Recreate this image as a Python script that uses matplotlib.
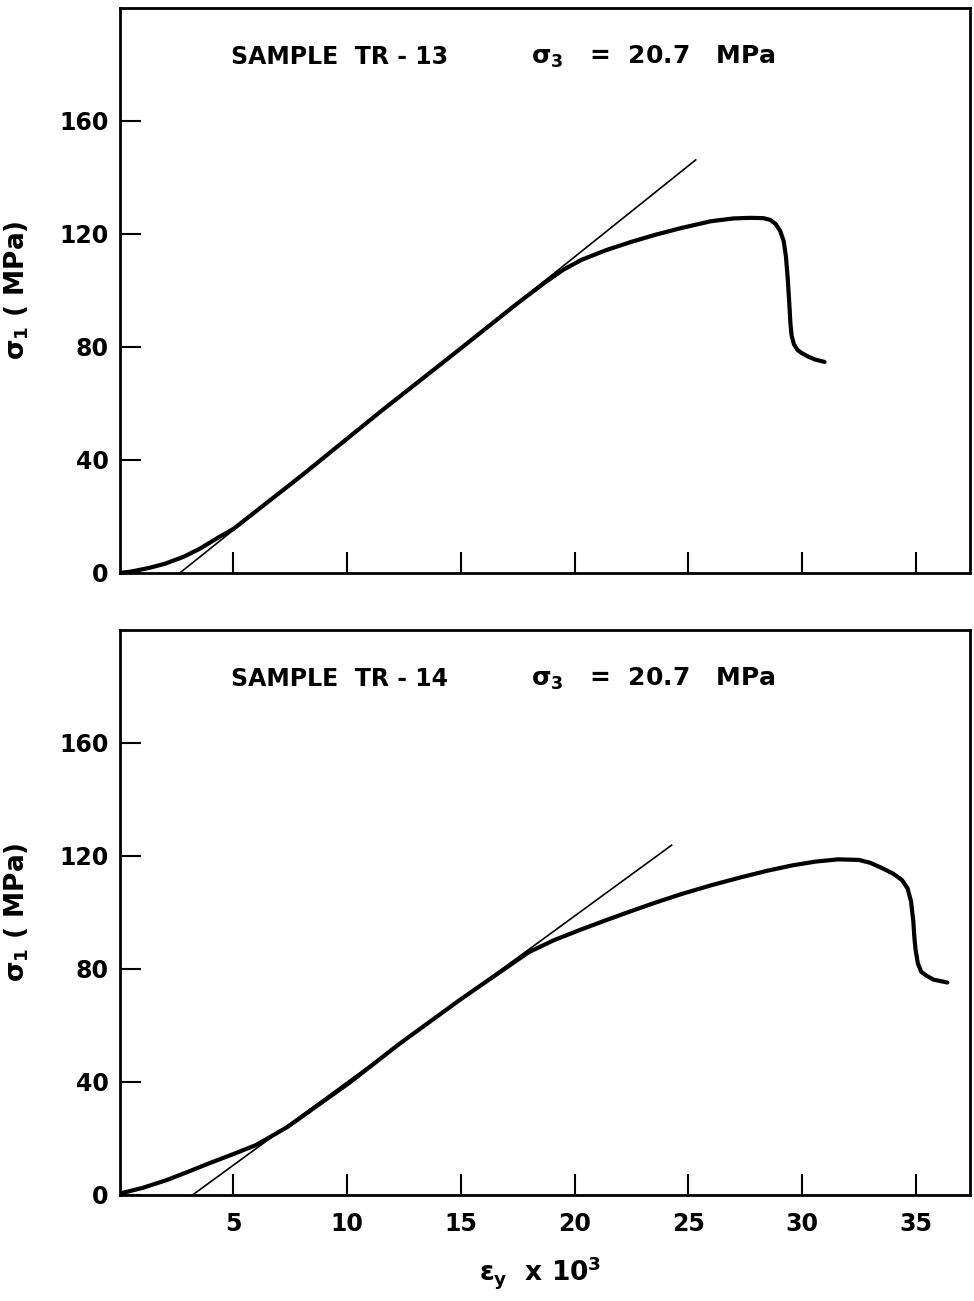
import numpy as np
import matplotlib.pyplot as plt

plt.rcParams['font.family'] = 'DejaVu Sans'
plt.rcParams['font.weight'] = 'bold'
plt.rcParams['mathtext.fontset'] = 'custom'
plt.rcParams['mathtext.rm'] = 'DejaVu Sans:bold'
plt.rcParams['mathtext.it'] = 'DejaVu Sans:bold'

# Sample TR-13: measured curve (strain x 10^3, sigma_1 in MPa)
tr13_strain = [0, 0.5, 1.3, 2.0, 2.8, 3.5, 4.3, 5.0, 8.0, 11.45, 15.0, 17.5, 18.7,
               19.5, 20.3, 21.4, 22.5, 23.6, 24.7, 26.0, 27.0, 27.75, 28.3, 28.6,
               28.85, 29.05, 29.2, 29.3, 29.38, 29.45, 29.5, 29.55, 29.65, 29.8,
               30.0, 30.3, 30.6, 31.0]
tr13_stress = [0, 0.5, 1.8, 3.3, 5.7, 8.5, 12.4, 15.6, 34.5, 57.0, 79.5, 95.5, 102.8,
               107.3, 110.8, 114.3, 117.2, 119.8, 122.1, 124.5, 125.5, 125.7, 125.6, 125.0,
               123.5, 121.0, 117.5, 112.0, 104.0, 95.0, 88.0, 84.0, 81.0, 79.0,
               77.8, 76.5, 75.5, 74.7]
# TR-13 tangent (elastic) line end points
tr13_tan_strain = [2.64, 25.33]
tr13_tan_stress = [0, 146.2]

# Sample TR-14
tr14_strain = [0, 1.0, 2.07, 3.0, 3.96, 5.0, 6.0, 7.36, 10.1, 12.3, 15.0, 18.0,
               19.1, 20.3, 21.4, 22.5, 23.6, 24.7, 26.0, 27.3, 28.5, 29.6, 30.6,
               31.6, 32.5, 33.0, 33.5, 34.0, 34.4, 34.65, 34.8, 34.9, 34.95, 35.0,
               35.1, 35.25, 35.5, 35.8, 36.4]
tr14_stress = [0.5, 2.5, 5.3, 8.2, 11.3, 14.5, 17.7, 24.0, 39.7, 53.5, 69.3, 86.0,
               90.2, 94.0, 97.3, 100.5, 103.6, 106.5, 109.6, 112.4, 114.8, 116.7, 118.0,
               118.8, 118.6, 117.6, 115.8, 113.8, 111.5, 108.5, 104.0, 97.0, 91.0, 86.9,
               82.0, 79.0, 77.5, 76.2, 75.2]
tr14_tan_strain = [3.2, 24.27]
tr14_tan_stress = [0, 123.8]

x_ticks = [5, 10, 15, 20, 25, 30, 35]
y_ticks = [0, 40, 80, 120, 160]

fig = plt.figure(figsize=(9.74, 13.01), dpi=100)
ax1 = fig.add_axes([0.123, 0.5596, 0.873, 0.4343])
ax2 = fig.add_axes([0.123, 0.0815, 0.873, 0.4343])

panels = [
    (ax1, tr13_strain, tr13_stress, tr13_tan_strain, tr13_tan_stress, 'SAMPLE  TR - 13'),
    (ax2, tr14_strain, tr14_stress, tr14_tan_strain, tr14_tan_stress, 'SAMPLE  TR - 14'),
]

for ax, xs, ys, txs, tys, name in panels:
    ax.plot(xs, ys, color='black', lw=3.0, solid_capstyle='round', solid_joinstyle='round')
    ax.plot(txs, tys, color='black', lw=1.2)
    ax.set_xlim(0, 37.4)
    ax.set_ylim(0, 200)
    ax.set_xticks(x_ticks)
    ax.set_yticks(y_ticks)
    ax.tick_params(direction='in', length=15, width=1.5, labelsize=17, pad=8)
    for s in ax.spines.values():
        s.set_linewidth(2.0)
    ax.set_ylabel(r'$\sigma_1$ ( MPa)', fontsize=19, fontweight='bold')
    ax.yaxis.set_label_coords(-0.104, 0.5)
    ax.text(4.9, 182.6, name, fontsize=17, fontweight='bold', va='center', ha='left')
    ax.text(18.1, 182.6, r'$\sigma_3$   =  20.7   MPa', fontsize=18, fontweight='bold',
            va='center', ha='left')

ax1.tick_params(labelbottom=False)
ax2.tick_params(axis='x', pad=12)
ax2.set_xlabel(r'$\epsilon_y$  x 10$^3$', fontsize=19, fontweight='bold')
ax2.xaxis.set_label_coords(0.494, -0.105)

fig.savefig('out.png', dpi=100)
